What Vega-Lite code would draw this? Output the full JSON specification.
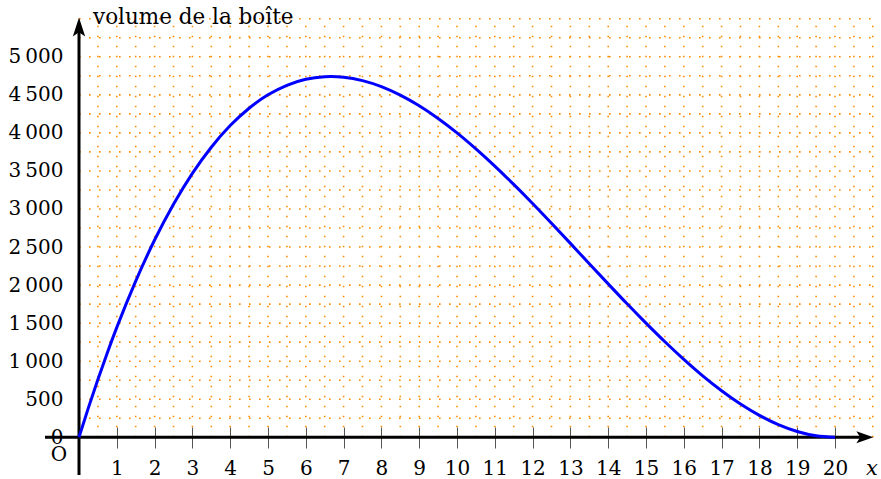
{
  "$schema": "https://vega.github.io/schema/vega-lite/v6.json",
  "width": 881,
  "height": 479,
  "autosize": {"type": "none"},
  "padding": 0,
  "background": "white",
  "config": {"view": {"stroke": null}, "font": "DejaVu Serif"},
  "datasets": {
    "grid_x": [
      {"gx": 0.5}, {"gx": 1}, {"gx": 1.5}, {"gx": 2}, {"gx": 2.5}, {"gx": 3}, {"gx": 3.5}, {"gx": 4}, {"gx": 4.5}, {"gx": 5},
      {"gx": 5.5}, {"gx": 6}, {"gx": 6.5}, {"gx": 7}, {"gx": 7.5}, {"gx": 8}, {"gx": 8.5}, {"gx": 9}, {"gx": 9.5}, {"gx": 10},
      {"gx": 10.5}, {"gx": 11}, {"gx": 11.5}, {"gx": 12}, {"gx": 12.5}, {"gx": 13}, {"gx": 13.5}, {"gx": 14}, {"gx": 14.5}, {"gx": 15},
      {"gx": 15.5}, {"gx": 16}, {"gx": 16.5}, {"gx": 17}, {"gx": 17.5}, {"gx": 18}, {"gx": 18.5}, {"gx": 19}, {"gx": 19.5}, {"gx": 20},
      {"gx": 20.5}, {"gx": 21}
    ],
    "grid_y": [
      {"gy": 250}, {"gy": 500}, {"gy": 750}, {"gy": 1000}, {"gy": 1250}, {"gy": 1500}, {"gy": 1750}, {"gy": 2000}, {"gy": 2250}, {"gy": 2500},
      {"gy": 2750}, {"gy": 3000}, {"gy": 3250}, {"gy": 3500}, {"gy": 3750}, {"gy": 4000}, {"gy": 4250}, {"gy": 4500}, {"gy": 4750}, {"gy": 5000},
      {"gy": 5250}, {"gy": 5500}
    ],
    "curve": [
      {"x": 0, "v": 0}, {"x": 0.25, "v": 390}, {"x": 0.5, "v": 760}, {"x": 0.75, "v": 1112}, {"x": 1, "v": 1444},
      {"x": 1.5, "v": 2053}, {"x": 2, "v": 2592}, {"x": 2.5, "v": 3062}, {"x": 3, "v": 3468}, {"x": 3.5, "v": 3811},
      {"x": 4, "v": 4096}, {"x": 4.5, "v": 4324}, {"x": 5, "v": 4500}, {"x": 5.5, "v": 4625}, {"x": 6, "v": 4704},
      {"x": 6.5, "v": 4738}, {"x": 6.67, "v": 4741}, {"x": 7, "v": 4732}, {"x": 7.5, "v": 4687}, {"x": 8, "v": 4608},
      {"x": 8.5, "v": 4496}, {"x": 9, "v": 4356}, {"x": 9.5, "v": 4189}, {"x": 10, "v": 4000}, {"x": 10.5, "v": 3790},
      {"x": 11, "v": 3564}, {"x": 11.5, "v": 3323}, {"x": 12, "v": 3072}, {"x": 12.5, "v": 2812}, {"x": 13, "v": 2548},
      {"x": 13.5, "v": 2281}, {"x": 14, "v": 2016}, {"x": 14.5, "v": 1754}, {"x": 15, "v": 1500}, {"x": 15.5, "v": 1255},
      {"x": 16, "v": 1024}, {"x": 16.5, "v": 808}, {"x": 17, "v": 612}, {"x": 17.5, "v": 437}, {"x": 18, "v": 288},
      {"x": 18.5, "v": 166}, {"x": 19, "v": 76}, {"x": 19.5, "v": 19}, {"x": 20, "v": 0}
    ]
  },
  "layer": [
    {
      "data": {"name": "grid_x"},
      "mark": {"type": "rule", "color": "#ff8c00", "strokeWidth": 1.6, "strokeDash": [1.6, 8.4]},
      "encoding": {
        "x": {
          "field": "gx", "type": "quantitative", "scale": {"domain": [-2.09, 21.217], "nice": false, "zero": false},
          "axis": {
            "orient": "bottom", "offset": -52, "values": [1,2,3,4,5,6,7,8,9,10,11,12,13,14,15,16,17,18,19,20],
            "domain": false, "grid": false, "tickSize": 21, "tickColor": "#555555", "tickWidth": 1,
            "labelFont": "DejaVu Serif", "labelFontSize": 20, "labelColor": "black", "labelPadding": 10,
            "labelFlush": false, "labelOverlap": false, "title": null
          }
        },
        "y": {
          "datum": 0, "type": "quantitative", "scale": {"domain": [-548, 5746], "nice": false, "zero": false},
          "axis": {
            "orient": "left", "offset": -79, "values": [0,500,1000,1500,2000,2500,3000,3500,4000,4500,5000],
            "format": ",d", "labelExpr": "replace(datum.label, ',', '\u2009')",
            "domain": false, "grid": false, "ticks": false, "tickSize": 0,
            "labelFont": "DejaVu Serif", "labelFontSize": 20, "labelColor": "black", "labelPadding": 16,
            "labelFlush": false, "labelOverlap": false, "title": null
          }
        },
        "y2": {"datum": 5500}
      }
    },
    {
      "data": {"name": "grid_y"},
      "mark": {"type": "rule", "color": "#ff8c00", "strokeWidth": 1.6, "strokeDash": [1.6, 8.4]},
      "encoding": {
        "y": {"field": "gy", "type": "quantitative", "title": null},
        "x": {"datum": 0, "type": "quantitative", "title": null},
        "x2": {"datum": 21}
      }
    },
    {
      "data": {"values": [{}]},
      "mark": {"type": "rule", "color": "black", "strokeWidth": 3},
      "encoding": {
        "x": {"datum": -0.9, "type": "quantitative", "title": null},
        "x2": {"datum": 20.7},
        "y": {"datum": 0, "type": "quantitative", "title": null}
      }
    },
    {
      "data": {"values": [{}]},
      "mark": {"type": "rule", "color": "black", "strokeWidth": 3},
      "encoding": {
        "x": {"datum": 0, "type": "quantitative", "title": null},
        "y": {"datum": -495, "type": "quantitative", "title": null},
        "y2": {"datum": 5350}
      }
    },
    {
      "data": {"values": [{}]},
      "mark": {"type": "point", "filled": true, "color": "black", "opacity": 1, "size": 289, "shape": "M1,0 L-1,-0.7 L-0.55,0 L-1,0.7 Z"},
      "encoding": {
        "x": {"datum": 20.79, "type": "quantitative", "title": null},
        "y": {"datum": 0, "type": "quantitative", "title": null}
      }
    },
    {
      "data": {"values": [{}]},
      "mark": {"type": "point", "filled": true, "color": "black", "opacity": 1, "size": 361, "shape": "M0,-1 L0.65,1 L0,0.55 L-0.65,1 Z"},
      "encoding": {
        "x": {"datum": 0, "type": "quantitative", "title": null},
        "y": {"datum": 5392, "type": "quantitative", "title": null}
      }
    },
    {
      "data": {"name": "curve"},
      "mark": {"type": "line", "color": "#0000ff", "strokeWidth": 3, "interpolate": "monotone"},
      "encoding": {
        "x": {"field": "x", "type": "quantitative", "title": null},
        "y": {"field": "v", "type": "quantitative", "title": null}
      }
    },
    {
      "data": {"values": [{}]},
      "mark": {"type": "text", "text": "volume de la boîte", "align": "left", "baseline": "middle", "fontSize": 21.5, "font": "DejaVu Serif", "color": "black"},
      "encoding": {
        "x": {"datum": 0.37, "type": "quantitative", "title": null},
        "y": {"datum": 5510, "type": "quantitative", "title": null}
      }
    },
    {
      "data": {"values": [{}]},
      "mark": {"type": "text", "text": "O", "align": "center", "baseline": "middle", "fontSize": 20, "font": "DejaVu Serif", "color": "black"},
      "encoding": {
        "x": {"datum": -0.53, "type": "quantitative", "title": null},
        "y": {"datum": -233, "type": "quantitative", "title": null}
      }
    },
    {
      "data": {"values": [{}]},
      "mark": {"type": "text", "text": "x", "align": "center", "baseline": "middle", "fontSize": 21, "fontStyle": "italic", "font": "DejaVu Serif", "color": "black"},
      "encoding": {
        "x": {"datum": 20.98, "type": "quantitative", "title": null},
        "y": {"datum": -417, "type": "quantitative", "title": null}
      }
    }
  ]
}
